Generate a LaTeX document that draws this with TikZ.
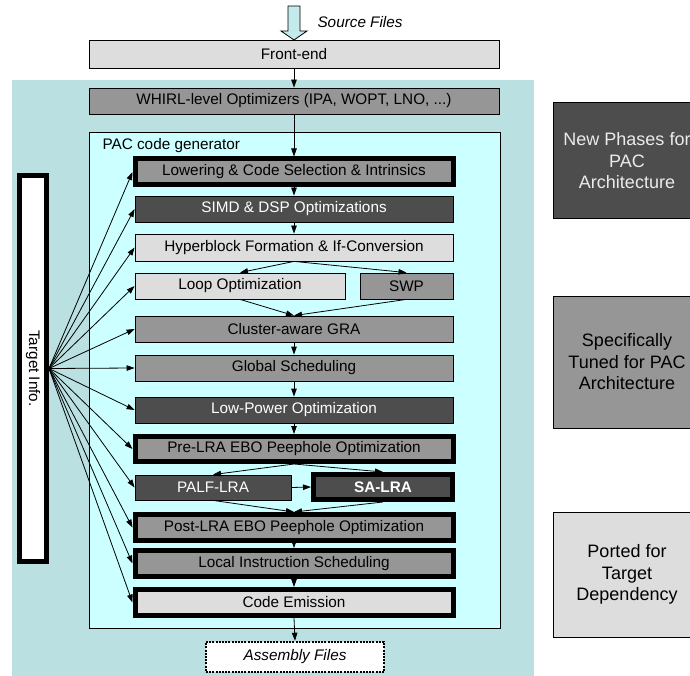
\documentclass[tikz,border=0pt]{standalone}
\usepackage{fontspec}
\setmainfont{Liberation Sans}
\usetikzlibrary{arrows.meta}
\definecolor{bgteal}{RGB}{186,224,226}
\definecolor{paccyan}{RGB}{204,255,255}
\definecolor{srccyan}{RGB}{196,234,236}
\definecolor{lightgr}{RGB}{221,221,221}
\definecolor{midgr}{RGB}{150,150,150}
\definecolor{darkgr}{RGB}{77,77,77}
\newcommand{\flowfont}{\fontsize{15.3}{18}\selectfont}
\tikzset{
BOX/.style ={draw=black,line width=0.8pt,inner sep=0pt,minimum height=26pt,minimum width=318pt,font=\flowfont},
THICK/.style ={BOX,line width=5pt},
LIGHT/.style={fill=lightgr},
MID/.style={fill=midgr},
DARK/.style={fill=darkgr,text=white},
LINK/.style={draw=black,line width=0.8pt,-{Triangle[length=8pt,width=5.5pt]}},
LEGEND/.style={draw=black,line width=1pt,minimum width=148pt,align=center,font=\fontsize{18}{21.5}\selectfont},
}
\begin{document}
\begin{tikzpicture} [x=1pt, y=-1pt] %PAC compiler flow
	\useasboundingbox (0,0) rectangle (690,676);
	\fill[bgteal] (12,80) rectangle (534,676);
	\draw[fill=paccyan,line width=0.8pt] (89,132) rectangle (500,628);
	\node[anchor=west,font=\flowfont] (pacgen) at (99,146) {PAC code generator};
	\draw[fill=srccyan,line width=0.8pt] (288,6) -- (300,6) -- (300,31) -- (307,31) -- (294,40) -- (281,31) -- (288,31) -- cycle;
	\node[anchor=west,font=\flowfont\itshape] (srcfiles) at (314,22) {Source Files};
	\node[BOX,LIGHT,minimum width=410pt,minimum height=28pt] (front) at (294,54) {Front-end};
	\node[BOX,MID,minimum width=410pt] (whirl) at (294,101) {WHIRL-level Optimizers (IPA, WOPT, LNO, ...)};
	\node[THICK,MID] (lower) at (294,172) {Lowering \& Code Selection \& Intrinsics};
	\node[BOX,DARK] (simd) at (294,209) {SIMD \& DSP Optimizations};
	\node[BOX,LIGHT,minimum height=27pt] (hyper) at (294,247.5) {Hyperblock Formation \& If-Conversion};
	\node[BOX,LIGHT,minimum width=210pt] (loop) at (240,286) {Loop Optimization};
	\node[BOX,MID,minimum width=93pt] (swp) at (406.5,286) {SWP};
	\node[BOX,MID] (gra) at (294,329) {Cluster-aware GRA};
	\node[BOX,MID] (gsched) at (294,368) {Global Scheduling};
	\node[BOX,DARK] (lowpow) at (294,410) {Low-Power Optimization};
	\node[THICK,MID,minimum height=25pt] (prelra) at (294,449) {Pre-LRA EBO Peephole Optimization};
	\node[BOX,DARK,minimum width=156pt,minimum height=25pt] (palf) at (213,487.5) {PALF-LRA};
	\node[THICK,DARK,minimum width=139pt,minimum height=25pt,font=\flowfont\bfseries] (salra) at (383,487) {SA-LRA};
	\node[THICK,MID] (postlra) at (294,527.5) {Post-LRA EBO Peephole Optimization};
	\node[THICK,MID] (lis) at (294,563.5) {Local Instruction Scheduling};
	\node[THICK,LIGHT] (emit) at (294,602.5) {Code Emission};
	\node[draw=black,fill=white,line width=2.5pt,dash pattern=on 2pt off 1.2pt,minimum width=178pt,minimum height=30pt,font=\flowfont\itshape] (asm) at (295,657) {Assembly Files};
	\node[THICK,fill=white,minimum width=27pt,minimum height=386pt,label={[rotate=-90,font=\flowfont]center:Target Info.}] (target) at (33,368.5) {};
	\node[LEGEND,DARK,minimum height=116pt,text=white!92!black] (newph) at (627,161) {New Phases for\\PAC\\Architecture};
	\node[LEGEND,MID,minimum height=132pt] (tuned) at (627,362) {Specifically\\Tuned for PAC\\Architecture};
	\node[LEGEND,LIGHT,minimum height=125pt] (ported) at (627,574.5) {Ported for\\Target\\Dependency};
	\foreach \a/\b in {front/whirl,whirl/lower,lower/simd,simd/hyper,hyper/loop,hyper/swp,loop/gra,swp/gra,gra/gsched,gsched/lowpow,lowpow/prelra,prelra/palf,prelra/salra,palf/postlra,salra/postlra,postlra/lis,lis/emit,emit/asm}
		\draw[LINK] (\a.south) -- (\b.north);
	\draw[LINK] (palf.east) -- (salra.west);
	\foreach \n in {lower,simd,hyper,loop,gra,gsched,lowpow,prelra,palf,postlra,lis,emit}
		\draw[LINK] (target.east) -- (\n.west);
\end{tikzpicture}
\end{document}
